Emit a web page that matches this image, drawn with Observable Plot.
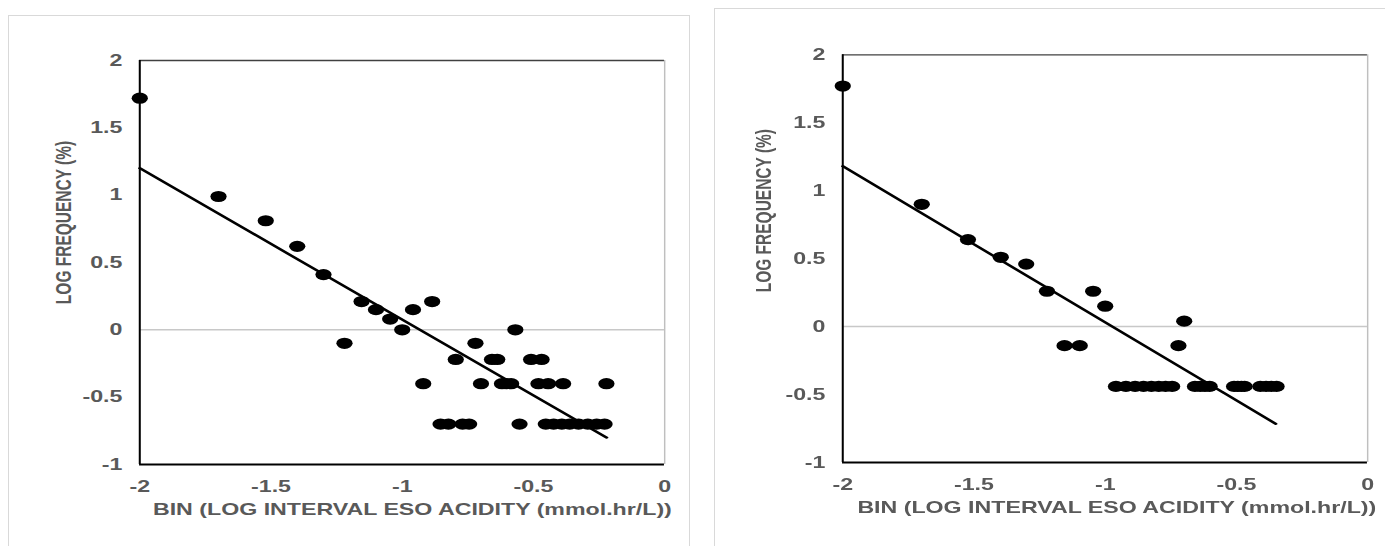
<!DOCTYPE html>
<html><head><meta charset="utf-8">
<script src="https://cdn.jsdelivr.net/npm/d3@7"></script>
<script src="https://cdn.jsdelivr.net/npm/@observablehq/plot@0.6"></script>
<style>
html,body{margin:0;padding:0;background:#fff;}
#page{position:relative;width:1385px;height:546px;overflow:hidden;font-family:"Liberation Sans",Arial,sans-serif;}
.box{position:absolute;border:1px solid #d9d9d9;box-sizing:border-box;}
.chart{position:absolute;top:0;transform-origin:0 0;transform:scaleX(1.45);}
</style></head><body>
<div id="page">
  <div class="box" style="left:8px;top:15px;width:682px;height:600px"></div>
  <div class="box" style="left:714px;top:8px;width:720px;height:600px"></div>
  <div id="c1" class="chart" style="left:0px"></div>
  <div id="c2" class="chart" style="left:714px"></div>
</div>
<script>
// ---- data ----
const xTicks = [-2, -1.5, -1, -0.5, 0];
const yTicks = [-1, -0.5, 0, 0.5, 1, 1.5, 2];
const xTitle = "BIN (LOG INTERVAL ESO ACIDITY (mmol.hr/L))";
const yTitle = "LOG FREQUENCY (%)";

const leftX = [-2.00, -1.70, -1.52, -1.40, -1.30, -1.22, -1.155, -1.10, -1.046, -1.00,
  -0.959, -0.92, -0.886, -0.854, -0.824, -0.796, -0.77, -0.745, -0.721, -0.70,
  -0.658, -0.638, -0.62, -0.602, -0.585, -0.569, -0.553, -0.509, -0.469, -0.481,
  -0.444, -0.387, -0.222,
  -0.453, -0.423, -0.392, -0.362, -0.328, -0.293, -0.259, -0.229];
const leftY = [1.72, 0.99, 0.81, 0.62, 0.41, -0.10, 0.21, 0.15, 0.08, 0.00,
  0.15, -0.40, 0.21, -0.70, -0.70, -0.22, -0.70, -0.70, -0.10, -0.40,
  -0.22, -0.22, -0.40, -0.40, -0.40, 0.00, -0.70, -0.22, -0.22, -0.40,
  -0.40, -0.40, -0.40,
  -0.70, -0.70, -0.70, -0.70, -0.70, -0.70, -0.70, -0.70];
const leftTrendX = [-2.00, -0.221];
const leftTrendY = [1.20, -0.80];

const rightX = [-2.00, -1.699, -1.523, -1.398, -1.301, -1.222, -1.155, -1.097, -1.046, -1.00,
  -0.959, -0.921, -0.886, -0.854, -0.824, -0.796, -0.770, -0.745,
  -0.721, -0.699,
  -0.658, -0.638, -0.620, -0.602,
  -0.509, -0.495, -0.481, -0.469,
  -0.409, -0.387, -0.367, -0.347];
const rightY = [1.77, 0.90, 0.64, 0.51, 0.46, 0.26, -0.14, -0.14, 0.26, 0.15,
  -0.44, -0.44, -0.44, -0.44, -0.44, -0.44, -0.44, -0.44,
  -0.14, 0.04,
  -0.44, -0.44, -0.44, -0.44,
  -0.44, -0.44, -0.44, -0.44,
  -0.44, -0.44, -0.44, -0.44];
const rightTrendX = [-2.00, -0.35];
const rightTrendY = [1.18, -0.715];

const GREY = "#595959";
const FONT = "'Liberation Sans', Arial, sans-serif";

function makeChart(o) {
  const pts = o.xs.map((x, i) => ({x, y: o.ys[i]}));
  const trend = o.tx.map((x, i) => ({x, y: o.ty[i]}));
  return Plot.plot({
    width: o.width, height: 546,
    marginLeft: o.mL, marginRight: o.mR, marginTop: o.mT, marginBottom: o.mB,
    style: {fontFamily: FONT, fontSize: "16px", color: GREY, background: "transparent", overflow: "visible"},
    x: {domain: [-2, 0]},
    y: {domain: [-1, 2]},
    marks: [
      Plot.ruleY([0], {stroke: "#c8c8c8", strokeWidth: 1.5}),
      Plot.ruleX([0], {stroke: "#bfbfbf", strokeWidth: 1}),
      Plot.ruleY([2], {stroke: "#404040", strokeWidth: 1.3}),
      Plot.ruleY([-1], {stroke: "#000", strokeWidth: 2}),
      Plot.ruleX([-2], {stroke: "#000", strokeWidth: 1.4}),
      Plot.axisX({ticks: xTicks, tickSize: 0, tickPadding: 16, label: null,
        tickFormat: d => String(d), fontWeight: "bold", fill: GREY, fontSize: 16}),
      Plot.axisY({ticks: yTicks, tickSize: 0, tickPadding: 12, label: null,
        tickFormat: d => String(d), fontWeight: "bold", fill: GREY, fontSize: 16}),
      Plot.dot(pts, {x: "x", y: "y", r: 5.6, fill: "#000", stroke: "none"}),
      Plot.line(trend, {x: "x", y: "y", stroke: "#000", strokeWidth: 2.3}),
      Plot.text([xTitle], {text: d => d, frameAnchor: "bottom", dy: o.xtDy, dx: o.xtDx,
        fontWeight: "bold", fontSize: 16, fill: GREY, textAnchor: "middle", lineAnchor: "middle"}),
      Plot.text([yTitle], {text: d => d, frameAnchor: "left", rotate: -90, dx: o.ytDx, dy: o.ytDy,
        fontWeight: "bold", fontSize: 15.5, fill: GREY, textAnchor: "middle", lineAnchor: "middle"})
    ]
  });
}

document.getElementById("c1").append(makeChart({
  xs: leftX, ys: leftY, tx: leftTrendX, ty: leftTrendY,
  width: 476, mL: 95.9, mR: 18.1, mT: 60, mB: 82,
  xtDx: 7, xtDy: 45, ytDx: -52.6, ytDy: -40
}));
document.getElementById("c2").append(makeChart({
  xs: rightX, ys: rightY, tx: rightTrendX, ty: rightTrendY,
  width: 463, mL: 88.3, mR: 12.7, mT: 54.3, mB: 84,
  xtDx: 8, xtDy: 45, ytDx: -54.7, ytDy: -48
}));
</script>
</body></html>
